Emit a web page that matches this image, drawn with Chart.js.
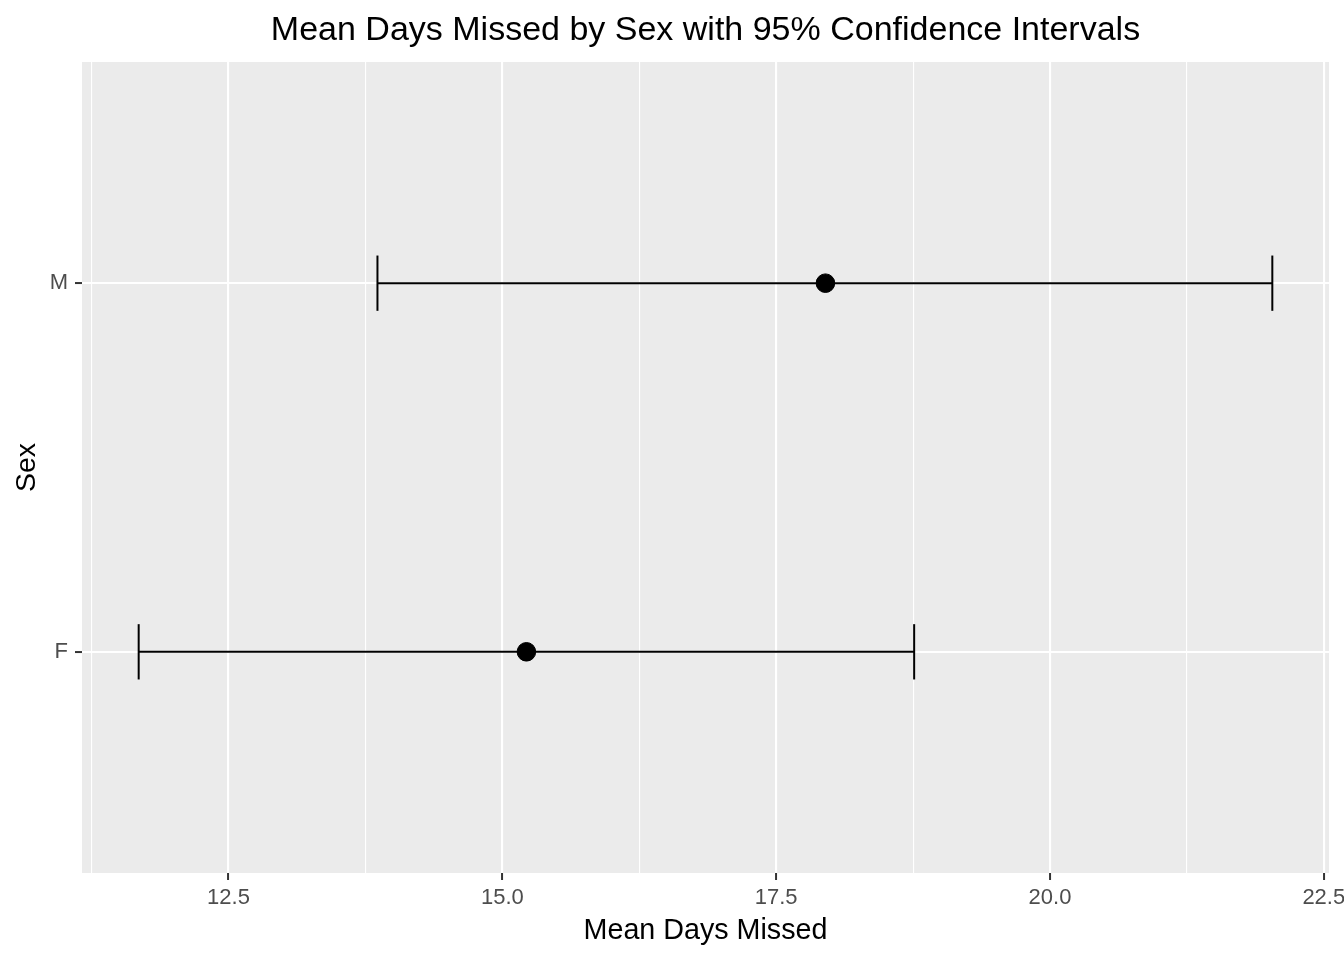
<!DOCTYPE html>
<html>
<head>
<meta charset="utf-8">
<title>Mean Days Missed by Sex</title>
<script src="https://cdn.jsdelivr.net/npm/chart.js@4.4.1/dist/chart.umd.min.js"></script>
<style>
  html, body { margin: 0; padding: 0; background: #fff; }
  #wrap { width: 1344px; height: 960px; }
</style>
</head>
<body>
<div id="wrap"><canvas id="chart"></canvas></div>
<script>
/* DATA */
const sexLabels = ["F", "M"];
const meanDays = [15.22, 17.95];
const lowerCI = [11.68, 13.86];
const upperCI = [18.76, 22.03];
const majorTicks = [12.5, 15.0, 17.5, 20.0, 22.5];
const minorTicks = [11.25, 13.75, 16.25, 18.75, 21.25];
const chartTitle = "Mean Days Missed by Sex with 95% Confidence Intervals";

const FONT = "'Liberation Sans', Arial, Helvetica, sans-serif";
const CAP = 0.075; // half height of the error bar caps, in category units

// ggplot style 5% expansion of the x range
const xLo = Math.min(...lowerCI), xHi = Math.max(...upperCI);
const xPad = (xHi - xLo) * 0.05;

/* DATASETS */
const lineStyle = {
  showLine: true,
  borderColor: "#000",
  borderWidth: 2,
  pointRadius: 0,
  pointHoverRadius: 0,
  fill: false,
  order: 1,
};

const datasets = [
  {
    label: "Mean",
    data: meanDays.map((m, i) => ({ x: m, y: i + 1 })),
    backgroundColor: "#000",
    borderColor: "#000",
    pointRadius: 9.3,
    pointHoverRadius: 9.3,
    order: 0,
  },
];

sexLabels.forEach((s, i) => {
  const y = i + 1;
  datasets.push({ ...lineStyle, label: s + " interval", data: [{ x: lowerCI[i], y }, { x: upperCI[i], y }] });
  datasets.push({ ...lineStyle, label: s + " low cap", data: [{ x: lowerCI[i], y: y - CAP }, { x: lowerCI[i], y: y + CAP }] });
  datasets.push({ ...lineStyle, label: s + " high cap", data: [{ x: upperCI[i], y: y - CAP }, { x: upperCI[i], y: y + CAP }] });
});

/* PANEL BACKGROUND + TITLE CENTRED ON THE PANEL */
const panelBg = {
  id: "panelBg",
  beforeDraw(chart) {
    const { ctx, chartArea: a } = chart;
    ctx.save();
    ctx.fillStyle = "#fff";
    ctx.fillRect(0, 0, chart.width, chart.height);
    ctx.fillStyle = "#EBEBEB";
    ctx.fillRect(a.left, a.top, a.right - a.left, a.bottom - a.top);
    ctx.restore();
  },
  afterDraw(chart) {
    const { ctx, chartArea: a } = chart;
    ctx.save();
    ctx.fillStyle = "#000";
    ctx.font = "34px " + FONT;
    ctx.textAlign = "center";
    ctx.textBaseline = "middle";
    ctx.fillText(chartTitle, (a.left + a.right) / 2, 31);
    ctx.restore();
  },
};

const isMajor = (v) => majorTicks.some((t) => Math.abs(t - v) < 1e-6);

new Chart(document.getElementById("chart"), {
  type: "scatter",
  data: { datasets },
  plugins: [panelBg],
  options: {
    responsive: true,
    maintainAspectRatio: false,
    animation: false,
    layout: { padding: { left: 0, right: 15, top: 62, bottom: 0 } },
    plugins: {
      legend: { display: false },
      tooltip: { enabled: false },
      title: { display: false },
    },
    scales: {
      x: {
        type: "linear",
        min: xLo - xPad,
        max: xHi + xPad,
        afterBuildTicks: (scale) => {
          scale.ticks = [...minorTicks, ...majorTicks].sort((a, b) => a - b).map((v) => ({ value: v }));
        },
        afterFit: (scale) => {
          scale.height = 87;
          scale.paddingLeft = 0;
          scale.paddingRight = 0;
        },
        border: { display: false },
        grid: {
          color: "#fff",
          lineWidth: (c) => (isMajor(c.tick.value) ? 2.1 : 1.1),
          tickColor: (c) => (isMajor(c.tick.value) ? "#333" : "rgba(0,0,0,0)"),
          tickLength: 7,
          tickWidth: 2,
        },
        ticks: {
          autoSkip: false,
          maxRotation: 0,
          padding: 5,
          color: "#4D4D4D",
          font: { family: FONT, size: 22 },
          callback: (v) => (isMajor(v) ? v.toFixed(1) : ""),
        },
        title: {
          display: true,
          text: "Mean Days Missed",
          color: "#000",
          font: { family: FONT, size: 28.7 },
          padding: { top: 4, bottom: 12 },
        },
      },
      y: {
        type: "linear",
        min: 0.4,
        max: 2.6,
        afterBuildTicks: (scale) => {
          scale.ticks = sexLabels.map((s, i) => ({ value: i + 1 }));
        },
        afterFit: (scale) => {
          scale.width = 82;
          scale.paddingTop = 0;
          scale.paddingBottom = 0;
        },
        border: { display: false },
        grid: {
          color: "#fff",
          lineWidth: 2.1,
          tickColor: "#333",
          tickLength: 7,
          tickWidth: 2,
        },
        ticks: {
          padding: 7,
          color: "#4D4D4D",
          font: { family: FONT, size: 22 },
          callback: (v) => sexLabels[Math.round(v) - 1] || "",
        },
        title: {
          display: true,
          text: "Sex",
          color: "#000",
          font: { family: FONT, size: 28.5 },
          padding: { top: 10, bottom: 4 },
        },
      },
    },
  },
});
</script>
</body>
</html>
